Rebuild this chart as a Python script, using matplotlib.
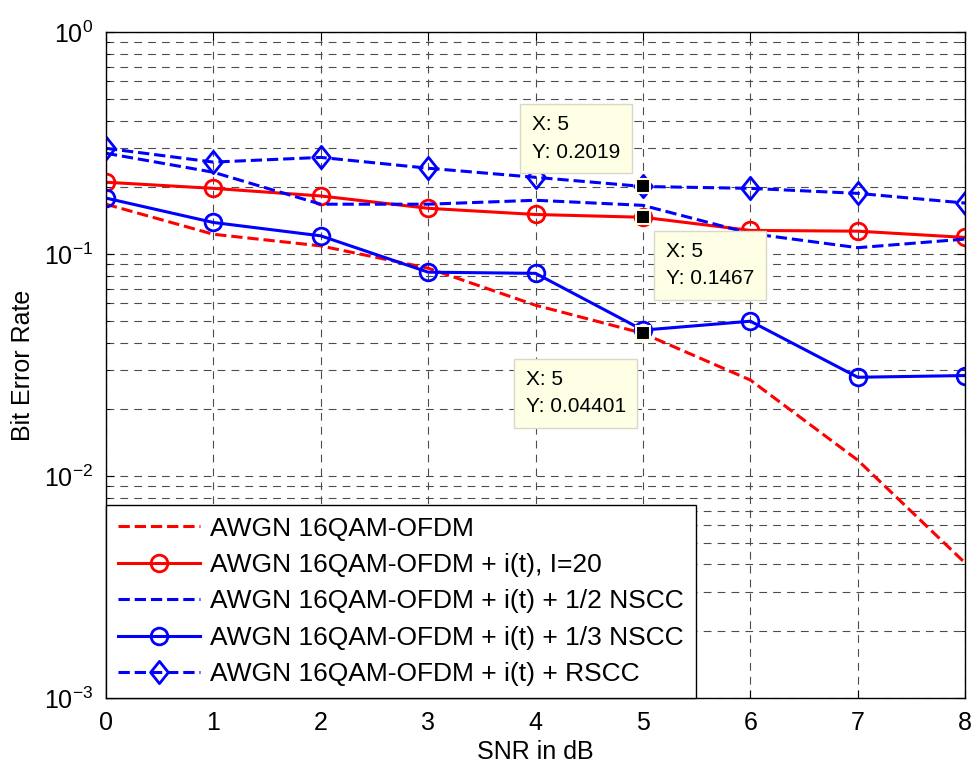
import numpy as np
import matplotlib
matplotlib.use("Agg")
import matplotlib.pyplot as plt
from matplotlib.path import Path

plt.rcParams['font.family'] = ['Liberation Sans', 'DejaVu Sans']
plt.rcParams['font.size'] = 17

# SNR axis
snr = [0, 1, 2, 3, 4, 5, 6, 7, 8]

# BER curves
ber_awgn = [0.168, 0.123, 0.109, 0.0865, 0.0589, 0.04401, 0.0271, 0.0118, 0.00406]
ber_it = [0.211, 0.198, 0.183, 0.161, 0.151, 0.1467, 0.128, 0.127, 0.119]
ber_half = [0.285, 0.234, 0.168, 0.168, 0.175, 0.166, 0.124, 0.107, 0.117]
ber_third = [0.179, 0.139, 0.121, 0.083, 0.082, 0.0455, 0.0499, 0.0279, 0.0284]
ber_rscc = [0.300, 0.260, 0.273, 0.244, 0.222, 0.2019, 0.198, 0.188, 0.170]

labels = ['AWGN 16QAM-OFDM',
          'AWGN 16QAM-OFDM + i(t), I=20',
          'AWGN 16QAM-OFDM + i(t) + 1/2 NSCC',
          'AWGN 16QAM-OFDM + i(t) + 1/3 NSCC',
          'AWGN 16QAM-OFDM + i(t) + RSCC']

# data tips (x, y)
tip_x = [5, 5, 5]
tip_y = [0.2019, 0.1467, 0.04401]
tip_txt = ['X: 5\nY: 0.2019', 'X: 5\nY: 0.1467', 'X: 5\nY: 0.04401']
tip_off = [(-67, 48), (67, -48), (-67, -60)]

# matlab-like diamond (a bit taller than wide)
diamond = Path([(0, 1), (0.8, 0), (0, -1), (-0.8, 0), (0, 1)],
               [Path.MOVETO, Path.LINETO, Path.LINETO, Path.LINETO, Path.CLOSEPOLY])

fig = plt.figure(figsize=(9.72, 7.68), dpi=100)
ax = fig.add_axes([0.109, 0.091, 0.884, 0.867])

lw = 2.2
ax.plot(snr, ber_awgn, color='red', ls='--', lw=lw, label=labels[0])
ax.plot(snr, ber_it, color='red', ls='-', lw=lw, marker='o', ms=12,
        mfc='none', mew=2, label=labels[1])
ax.plot(snr, ber_half, color='blue', ls='--', lw=lw, label=labels[2])
ax.plot(snr, ber_third, color='blue', ls='-', lw=lw, marker='o', ms=12,
        mfc='none', mew=2, label=labels[3])
ax.plot(snr, ber_rscc, color='blue', ls='--', lw=lw, marker=diamond, ms=16,
        mfc='none', mew=2, label=labels[4])

ax.set_yscale('log')
ax.set_xlim(0, 8)
ax.set_ylim(1e-3, 1)
ax.set_xticks(snr)
ax.grid(True, which='major', color='0.3', ls=(0, (7, 5.5)), lw=0.8)
ax.grid(True, which='minor', axis='y', color='0.3', ls=(0, (7, 5.5)), lw=0.8)
ax.tick_params(which='both', direction='in', top=True, right=True, labelsize=18)
ax.tick_params(which='major', length=6, pad=9)
ax.tick_params(which='minor', length=3)
for s in ax.spines.values():
    s.set_linewidth(1.0)

ax.set_xlabel('SNR in dB', fontsize=18, labelpad=4)
ax.set_ylabel('Bit Error Rate', fontsize=18, labelpad=7)

# data tips
for x, y, t, off in zip(tip_x, tip_y, tip_txt, tip_off):
    ax.plot(x, y, marker='s', ms=10, mfc='black', mec='#fffbe0', mew=1.5, zorder=6)
    ax.annotate(t, xy=(x, y), xytext=off, textcoords='offset pixels',
                ha='center', va='center', multialignment='left', fontsize=15,
                linespacing=1.55,
                bbox=dict(boxstyle='square,pad=0.55', fc='#ffffe6', ec='#d8d8c8', lw=1),
                zorder=7)

leg = ax.legend(loc='lower left', borderaxespad=0, fontsize=19, handlelength=3.1,
                handletextpad=0.4, labelspacing=0.47, fancybox=False,
                framealpha=1, edgecolor='black', borderpad=0.45)
leg.get_frame().set_linewidth(1.0)

fig.savefig('out.png', dpi=100)
